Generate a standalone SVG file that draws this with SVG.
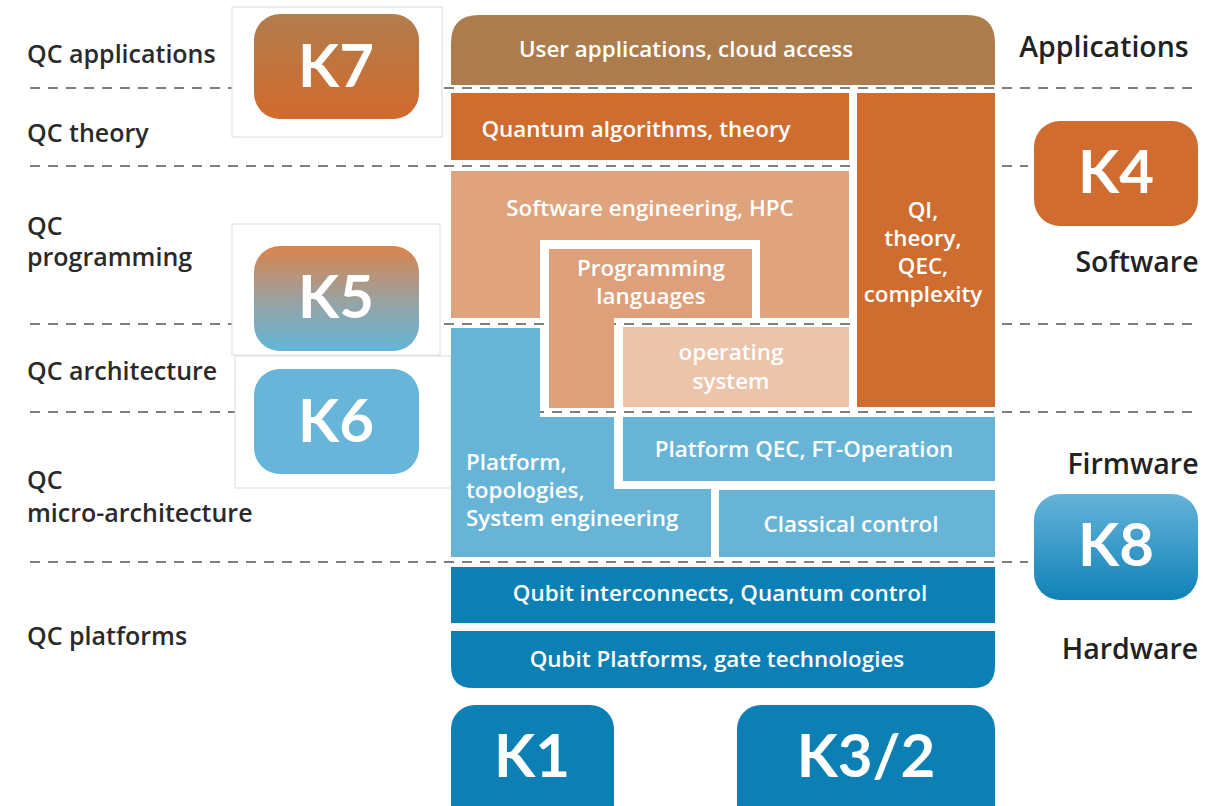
<svg xmlns="http://www.w3.org/2000/svg" width="1223" height="806" viewBox="0 0 1223 806">
<defs>
<linearGradient id="gK7" x1="0" y1="0" x2="0" y2="1"><stop offset="0" stop-color="#B17D4D"/><stop offset="1" stop-color="#D26A2C"/></linearGradient>
<linearGradient id="gK5" x1="0" y1="0" x2="0" y2="1"><stop offset="0" stop-color="#DA834B"/><stop offset="0.55" stop-color="#95A4A6"/><stop offset="1" stop-color="#62B6D9"/></linearGradient>
<linearGradient id="gK8" x1="0" y1="0" x2="0" y2="1"><stop offset="0" stop-color="#65B3D9"/><stop offset="1" stop-color="#1082B7"/></linearGradient>
</defs>
<style>
.lbl{font-family:"Open Sans","Liberation Sans",sans-serif;font-weight:600;fill:#2a2a2a;font-size:25px}
.rl{font-family:"Open Sans","Liberation Sans",sans-serif;font-weight:600;fill:#222;font-size:28.5px;text-anchor:middle}
.bt{font-family:"Open Sans","Liberation Sans",sans-serif;font-weight:600;fill:#fff;font-size:22.4px;text-anchor:middle}
.st{text-anchor:start}
.kt{font-family:Lato,"Liberation Sans",sans-serif;font-weight:700;fill:#fff;font-size:60px;text-anchor:middle}
.dash{stroke:#555;stroke-width:1.5;stroke-dasharray:10 8;fill:none}
.frame{fill:#fff;stroke:#dcdcdc;stroke-width:1}
.org{fill:#CF6D31}
.lb{fill:#67B4D6}
.db{fill:#0C80B4}
</style>
<rect width="1223" height="806" fill="#fff"/>

<g id="labels-left">
<text class="lbl" x="27" y="63">QC applications</text>
<text class="lbl" x="27" y="142">QC theory</text>
<text class="lbl" x="27" y="235">QC</text>
<text class="lbl" x="27" y="266">programming</text>
<text class="lbl" x="27" y="380">QC architecture</text>
<text class="lbl" x="27" y="489">QC</text>
<text class="lbl" x="27" y="522">micro-architecture</text>
<text class="lbl" x="27" y="645">QC platforms</text>
</g>

<g id="se">
<rect x="451" y="171" width="398" height="147" fill="#DFA37D"/>
<rect x="540" y="240" width="220" height="78" fill="#fff"/>
<text class="bt" x="650" y="216">Software engineering, HPC</text>
</g>

<g id="connectors">
<line class="dash" x1="30" y1="88" x2="1200" y2="88"/>
<line class="dash" x1="30" y1="166" x2="1028" y2="166"/>
<line class="dash" x1="30" y1="324" x2="1200" y2="324"/>
<line class="dash" x1="30" y1="412" x2="1200" y2="412"/>
<line class="dash" x1="30" y1="562" x2="1028" y2="562"/>
</g>

<g id="k7"><rect class="frame" x="232" y="7" width="210" height="130"/><rect x="254" y="14" width="165" height="105" rx="26" fill="url(#gK7)"/><text class="kt" x="336" y="87">K7</text></g>
<g id="k5"><rect class="frame" x="232" y="224" width="208" height="131"/><rect x="254" y="246" width="165" height="105" rx="26" fill="url(#gK5)"/><text class="kt" x="336" y="318">K5</text></g>
<g id="k6"><rect class="frame" x="235" y="356" width="216" height="132"/><rect x="254" y="369" width="165" height="105" rx="26" fill="#67B5D8"/><text class="kt" x="336" y="442">K6</text></g>
<g id="k4"><rect x="1034" y="121" width="164" height="105" rx="26" fill="#D06C2F"/><text class="kt" x="1116" y="193">K4</text></g>
<g id="k8"><rect x="1034" y="494" width="164" height="106" rx="26" fill="url(#gK8)"/><text class="kt" x="1116" y="566">K8</text></g>
<g id="k1"><rect class="db" x="451" y="705" width="163" height="140" rx="24"/><text class="kt" x="532" y="777">K1</text></g>
<g id="k32"><rect class="db" x="737" y="705" width="258" height="140" rx="24"/><text class="kt" x="866" y="777">K3/2</text></g>

<g id="ua"><path d="M451,85 V43 Q451,15 479,15 H967 Q995,15 995,43 V85 Z" fill="#AD7C4D"/><text class="bt" x="686" y="57">User applications, cloud access</text></g>
<g id="qa"><rect class="org" x="451" y="93" width="398" height="67"/><text class="bt" x="636" y="137">Quantum algorithms, theory</text></g>
<g id="qi"><rect class="org" x="857" y="93" width="138" height="314"/>
<text class="bt" x="923" y="218">QI,</text><text class="bt" x="923" y="246">theory,</text><text class="bt" x="923" y="274">QEC,</text><text class="bt" x="923" y="302">complexity</text></g>
<g id="pl"><path d="M549,249 H752 V318 H614 V408 H549 Z" fill="#DDA07A"/>
<text class="bt" x="651" y="276">Programming</text><text class="bt" x="651" y="304">languages</text></g>
<g id="os"><rect x="623" y="327" width="226" height="80" fill="#EBC4A9"/>
<text class="bt" x="731" y="360">operating</text><text class="bt" x="731" y="389">system</text></g>
<g id="pt"><path class="lb" d="M451,328 H540 V417 H614 V489 H711 V557 H451 Z"/>
<text class="bt st" x="466" y="470">Platform,</text>
<text class="bt st" x="466" y="498">topologies,</text>
<text class="bt st" x="466" y="526">System engineering</text></g>
<g id="qec"><rect class="lb" x="623" y="417" width="372" height="64"/><text class="bt" x="804" y="457">Platform QEC, FT-Operation</text></g>
<g id="cc"><rect class="lb" x="719" y="490" width="276" height="67"/><text class="bt" x="851" y="532">Classical control</text></g>
<g id="qic"><rect class="db" x="451" y="567" width="544" height="56"/><text class="bt" x="720" y="601">Qubit interconnects, Quantum control</text></g>
<g id="qp"><path class="db" d="M451,631 H995 V666 Q995,688 973,688 H473 Q451,688 451,666 Z"/><text class="bt" x="717" y="667">Qubit Platforms, gate technologies</text></g>

<g id="labels-right">
<text class="rl" x="1104" y="57">Applications</text>
<text class="rl" x="1137" y="272">Software</text>
<text class="rl" x="1133" y="474">Firmware</text>
<text class="rl" x="1130" y="659">Hardware</text>
</g>
</svg>
